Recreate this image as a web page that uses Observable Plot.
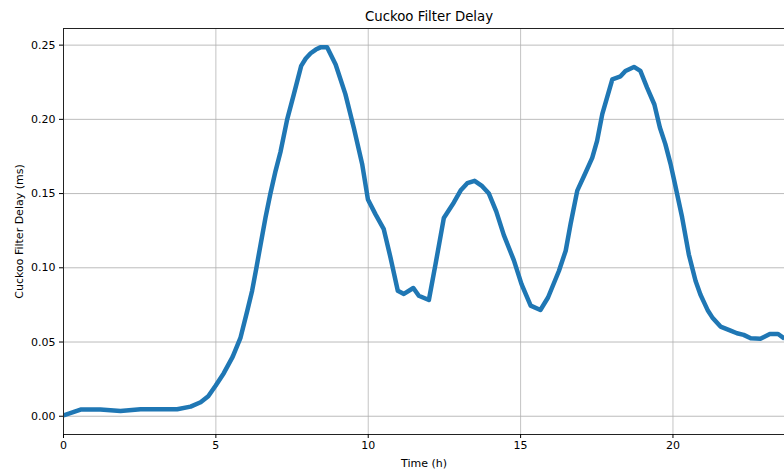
<!DOCTYPE html>
<html>
<head>
<meta charset="utf-8">
<script src="https://cdn.jsdelivr.net/npm/d3@7"></script>
<script src="https://cdn.jsdelivr.net/npm/@observablehq/plot@0.6"></script>
<style>
  html, body { margin: 0; padding: 0; background: #fff; overflow: hidden; }
  svg { display: block; }
</style>
</head>
<body>
<div id="chart"></div>
<script>
const title = "Cuckoo Filter Delay";
const xLabel = "Time (h)";
const yLabel = "Cuckoo Filter Delay (ms)";

const hours = [0, 0.56, 1.21, 1.87, 2.53, 3.18, 3.73, 4.17, 4.5, 4.75, 4.99, 5.26, 5.55, 5.81, 6.03, 6.19, 6.33, 6.47, 6.63, 6.79, 6.96, 7.12, 7.34, 7.56, 7.80, 7.95, 8.11, 8.28, 8.43, 8.65, 8.93, 9.25, 9.53, 9.80, 9.99, 10.24, 10.51, 10.73, 10.97, 11.17, 11.48, 11.66, 11.99, 12.21, 12.48, 12.81, 13.03, 13.25, 13.49, 13.74, 13.96, 14.2, 14.45, 14.78, 15.03, 15.33, 15.65, 15.90, 16.26, 16.48, 16.64, 16.86, 17.13, 17.35, 17.51, 17.68, 18.01, 18.28, 18.44, 18.72, 18.93, 19.15, 19.39, 19.57, 19.75, 19.92, 20.06, 20.30, 20.52, 20.74, 20.9, 21.02, 21.15, 21.29, 21.56, 21.89, 22.1, 22.32, 22.55, 22.87, 23.18, 23.45, 23.66];
const delay = [0.0005, 0.0045, 0.0045, 0.0036, 0.0047, 0.0047, 0.0047, 0.0065, 0.0094, 0.0135, 0.0205, 0.029, 0.040, 0.053, 0.071, 0.0846, 0.100, 0.116, 0.134, 0.150, 0.1653, 0.178, 0.200, 0.217, 0.236, 0.241, 0.2445, 0.247, 0.2485, 0.2485, 0.237, 0.217, 0.194, 0.170, 0.146, 0.136, 0.126, 0.107, 0.0846, 0.0824, 0.0864, 0.0812, 0.0783, 0.1026, 0.1335, 0.144, 0.152, 0.157, 0.1586, 0.155, 0.150, 0.138, 0.122, 0.105, 0.089, 0.0745, 0.0716, 0.080, 0.098, 0.1115, 0.1295, 0.152, 0.164, 0.174, 0.1855, 0.2035, 0.227, 0.229, 0.2326, 0.2353, 0.2326, 0.2214, 0.210, 0.1945, 0.1833, 0.170, 0.157, 0.134, 0.109, 0.0913, 0.082, 0.0767, 0.071, 0.0666, 0.0604, 0.0577, 0.0559, 0.0548, 0.0525, 0.0522, 0.0554, 0.0554, 0.0522];

const xTicks = [0, 5, 10, 15, 20];
const yTicks = [0.00, 0.05, 0.10, 0.15, 0.20, 0.25];
const xDomain = [0, 23.66];
const yDomain = [-0.0123, 0.2612];

const data = hours.map((h, i) => ({hour: h, delay: delay[i]}));

const chart = Plot.plot({
  width: 784,
  height: 470,
  marginLeft: 63,
  marginRight: 0,
  marginTop: 28,
  marginBottom: 36,
  style: {fontFamily: "DejaVu Sans", fontSize: "11px", color: "#000", background: "#fff"},
  x: {domain: xDomain},
  y: {domain: yDomain},
  marks: [
    Plot.gridX(xTicks, {stroke: "#b0b0b0", strokeOpacity: 0.75, strokeWidth: 1}),
    Plot.gridY(yTicks, {stroke: "#b0b0b0", strokeOpacity: 0.85, strokeWidth: 1}),
    Plot.line(data, {x: "hour", y: "delay", stroke: "#1f77b4", strokeWidth: 4.5, strokeLinejoin: "round", strokeLinecap: "butt", clip: true}),
    Plot.ruleX([xDomain[0]], {stroke: "#222", strokeWidth: 1}),
    Plot.ruleY([yDomain[0]], {stroke: "#222", strokeWidth: 1}),
    Plot.ruleY([yDomain[1]], {stroke: "#222", strokeWidth: 1}),
    Plot.axisX(xTicks, {tickSize: 4, tickPadding: 3, tickFormat: d => String(d), label: xLabel, labelAnchor: "center", labelOffset: 32, labelArrow: "none", fontSize: 11}),
    Plot.axisY(yTicks, {tickSize: 4, tickPadding: 4, tickFormat: d3.format(".2f"), label: yLabel, labelAnchor: "center", labelOffset: 48, labelArrow: "none", fontSize: 11}),
    Plot.text([title], {frameAnchor: "top", dx: 5, dy: -12, lineAnchor: "middle", fontSize: 13.3, fill: "#000"})
  ]
});
document.getElementById("chart").appendChild(chart);
</script>
</body>
</html>
